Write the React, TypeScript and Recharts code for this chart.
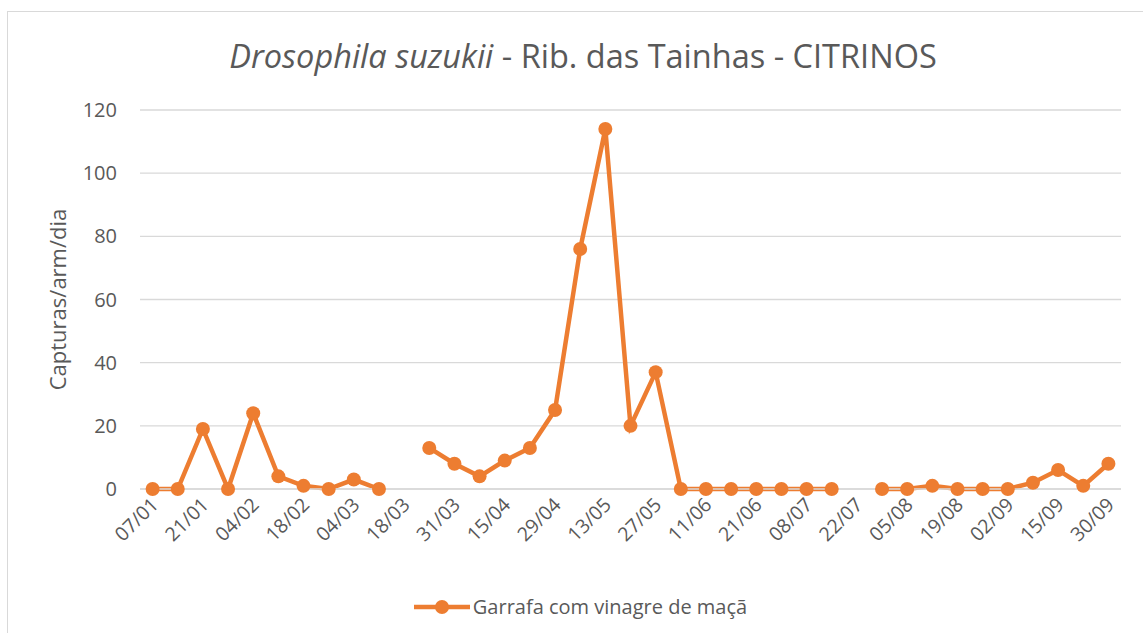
import React from 'react'
import {
  LineChart,
  Line,
  XAxis,
  YAxis,
  CartesianGrid,
  Legend,
  Label,
} from 'recharts'

// sampling dates (only every other one is shown on the axis)
const dates = [
  '07/01', '14/01', '21/01', '28/01', '04/02', '11/02', '18/02', '25/02',
  '04/03', '11/03', '18/03', '25/03', '31/03', '08/04', '15/04', '22/04',
  '29/04', '06/05', '13/05', '20/05', '27/05', '03/06', '11/06', '16/06',
  '21/06', '01/07', '08/07', '15/07', '22/07', '29/07', '05/08', '12/08',
  '19/08', '26/08', '02/09', '09/09', '15/09', '23/09', '30/09',
]

const captures: (number | null)[] = [
  0, 0, 19, 0, 24, 4, 1, 0, 3, 0, null, 13, 8, 4, 9, 13, 25, 76, 114, 20,
  37, 0, 0, 0, 0, 0, 0, 0, null, 0, 0, 1, 0, 0, 0, 2, 6, 1, 8,
]

const yTicks = [0, 20, 40, 60, 80, 100, 120]

const seriesName = 'Garrafa com vinagre de maçã'
const orange = '#ED7D31'
const textColor = '#595959'
const font = '"Open Sans", sans-serif'

const data = dates.map((d, i) => ({ date: d, value: captures[i] }))

function DateTick(props: any) {
  const { x, y, payload } = props
  const ax = x + 7
  const ay = y + 9
  return (
    <text
      x={ax}
      y={ay}
      textAnchor="end"
      fill={textColor}
      fontSize={19.5}
      fontFamily={font}
      transform={`rotate(-45, ${ax}, ${ay})`}
    >
      {payload.value}
    </text>
  )
}

function LegendContent() {
  return (
    <div
      style={{
        display: 'flex',
        justifyContent: 'center',
        alignItems: 'center',
        fontFamily: font,
        fontSize: 20,
        color: textColor,
        paddingLeft: 40,
      }}
    >
      <svg width={56} height={16} style={{ marginRight: 3 }}>
        <line x1={0} y1={8} x2={56} y2={8} stroke={orange} strokeWidth={4.5} />
        <circle cx={28} cy={8} r={7} fill={orange} />
      </svg>
      <span>{seriesName}</span>
    </div>
  )
}

export default function App() {
  return (
    <div
      style={{
        position: 'absolute',
        left: 0,
        top: 0,
        width: 1143,
        height: 633,
        background: '#fff',
        overflow: 'hidden',
      }}
    >
      <div
        style={{
          position: 'absolute',
          left: 7,
          top: 11,
          width: 1150,
          height: 640,
          border: '1px solid #d9d9d9',
        }}
      />
      <div
        style={{
          position: 'absolute',
          left: 0,
          top: 33,
          width: 1166,
          textAlign: 'center',
          fontFamily: font,
          fontSize: 32.5,
          color: textColor,
        }}
      >
        <i>Drosophila suzukii</i> - Rib. das Tainhas - CITRINOS
      </div>
      <div style={{ position: 'absolute', left: 0, top: 0 }}>
        <LineChart
          width={1143}
          height={633}
          data={data}
          margin={{ top: 110, right: 22, bottom: 12, left: 0 }}
        >
          <CartesianGrid vertical={false} stroke="#d9d9d9" strokeWidth={1.3} />
          <XAxis
            dataKey="date"
            interval={1}
            tick={<DateTick />}
            tickLine={false}
            axisLine={{ stroke: '#d9d9d9', strokeWidth: 1.3 }}
            padding={{ left: 12.6, right: 12.6 }}
            height={104}
          />
          <YAxis
            domain={[0, 120]}
            ticks={yTicks}
            width={140}
            axisLine={false}
            tickLine={false}
            tickMargin={17}
            tick={{ fill: textColor, fontSize: 20, fontFamily: font }}
          >
            <Label
              value="Capturas/arm/dia"
              angle={-90}
              position="insideLeft"
              offset={58}
              style={{ fill: textColor, fontSize: 22, fontFamily: font, textAnchor: 'middle' }}
            />
          </YAxis>
          <Legend verticalAlign="bottom" height={28} content={<LegendContent />} />
          <Line
            type="linear"
            dataKey="value"
            name={seriesName}
            stroke={orange}
            strokeWidth={4.5}
            dot={{ r: 7, fill: orange, stroke: orange, strokeWidth: 0 }}
            activeDot={false}
            connectNulls={false}
            isAnimationActive={false}
          />
        </LineChart>
      </div>
    </div>
  )
}
